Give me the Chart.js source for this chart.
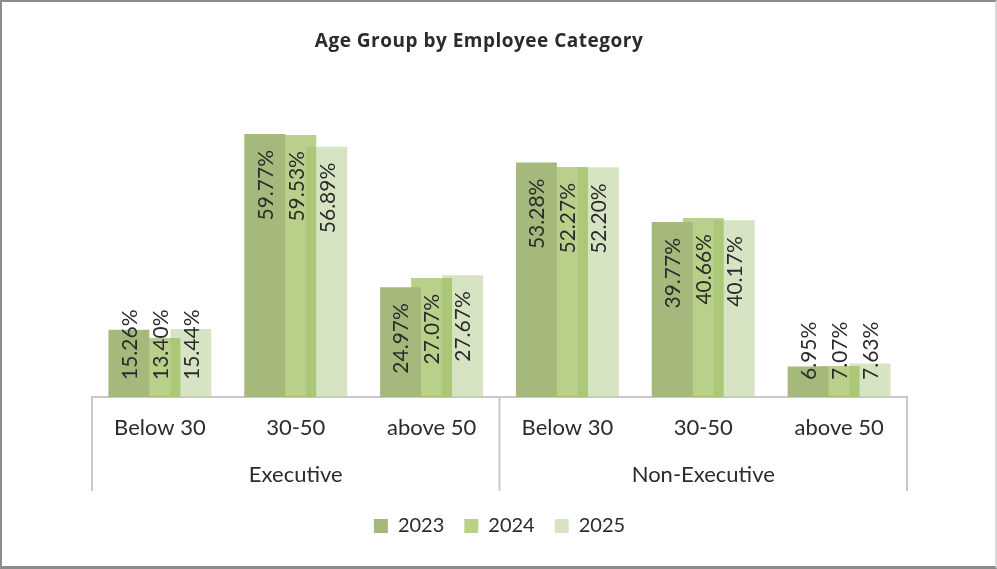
<!DOCTYPE html>
<html>
<head>
<meta charset="utf-8">
<script src="https://cdn.jsdelivr.net/npm/chart.js@4.4.1/dist/chart.umd.min.js"></script>
<style>
  html, body { margin: 0; padding: 0; background: #fff; }
  #wrap { position: relative; width: 997px; height: 569px; }
  #chart { position: absolute; left: 0; top: 0; }
  #frame {
    position: absolute; left: 0; top: 0; width: 997px; height: 569px;
    box-sizing: border-box; pointer-events: none;
    border-left: 2px solid #8c8c8c; border-top: 2px solid #8c8c8c;
    border-bottom: 3px solid #8c8c8c; border-right: 2px solid #d9d9d9;
  }
</style>
</head>
<body>
<div id="wrap">
  <canvas id="chart" width="997" height="569"></canvas>
  <div id="frame"></div>
</div>
<script>
// Age bands, repeated once per employee category
const ageGroups = ['Below 30', '30-50', 'above 50', 'Below 30', '30-50', 'above 50'];
const employeeCategories = ['Executive', 'Non-Executive'];
const years = ['2023', '2024', '2025'];

// Share of employees (%) in each age band
const values2023 = [15.26, 59.77, 24.97, 53.28, 39.77, 6.95];
const values2024 = [13.40, 59.53, 27.07, 52.27, 40.66, 7.07];
const values2025 = [15.44, 56.89, 27.67, 52.20, 40.17, 7.63];

const titleText = 'Age Group by Employee Category';

const FONT = 'Lato, "Open Sans", sans-serif';
const TEXT_COLOR = '#2b2b2b';
const AXIS_COLOR = '#c8c8c8';

// Chart heading
const chartHeading = {
  id: 'chartHeading',
  afterDraw(chart) {
    const ctx = chart.ctx;
    ctx.save();
    ctx.font = 'bold 19px "Open Sans", sans-serif';
    if ('letterSpacing' in ctx) ctx.letterSpacing = '0.5px';
    ctx.fillStyle = TEXT_COLOR;
    ctx.textAlign = 'center';
    ctx.textBaseline = 'middle';
    ctx.fillText(titleText, 479, 42);
    ctx.restore();
  }
};

// Vertical dividers framing the two employee categories
const groupDividers = {
  id: 'groupDividers',
  afterDraw(chart) {
    const x = chart.scales.x, x2 = chart.scales.x2;
    const half = (x.getPixelForValue(1) - x.getPixelForValue(0)) / 2;
    const lines = [x.left, x.getPixelForValue(3) - half, x.right];
    const ctx = chart.ctx;
    ctx.save();
    ctx.strokeStyle = AXIS_COLOR;
    ctx.lineWidth = 2;
    lines.forEach(px => {
      ctx.beginPath();
      ctx.moveTo(px, x.top);
      ctx.lineTo(px, x2.top + 48);
      ctx.stroke();
    });
    ctx.restore();
  }
};

// Rotated percentage labels at the inside end of each bar
const barValueLabels = {
  id: 'barValueLabels',
  afterDatasetsDraw(chart) {
    const ctx = chart.ctx;
    ctx.save();
    ctx.font = '21px ' + FONT;
    ctx.fillStyle = TEXT_COLOR;
    ctx.textAlign = 'left';
    ctx.textBaseline = 'middle';
    chart.data.datasets.forEach((ds, di) => {
      const meta = chart.getDatasetMeta(di);
      meta.data.forEach((bar, i) => {
        const text = ds.data[i].toFixed(2) + '%';
        const w = ctx.measureText(text).width;
        const top = Math.min(bar.y + 16, bar.base - 17 - w);
        ctx.save();
        ctx.translate(bar.x + 1, top + w);
        ctx.rotate(-Math.PI / 2);
        ctx.fillText(text, 0, 0);
        ctx.restore();
      });
    });
    ctx.restore();
  }
};

new Chart(document.getElementById('chart'), {
  type: 'bar',
  data: {
    labels: ageGroups,
    datasets: [
      { label: years[0], data: values2023, backgroundColor: 'rgba(166,185,124,1)' },
      { label: years[1], data: values2024, backgroundColor: 'rgba(150,185,80,0.67)' },
      { label: years[2], data: values2025, backgroundColor: 'rgba(201,218,175,0.74)' }
    ]
  },
  options: {
    responsive: false,
    animation: false,
    devicePixelRatio: 1,
    datasets: {
      bar: { categoryPercentage: 0.685, barPercentage: 1.32, borderWidth: 0 }
    },
    layout: { padding: { top: 89, left: 92, right: 90, bottom: 23 } },
    scales: {
      y: { display: false, min: 0, max: 70 },
      x: {
        position: 'bottom',
        weight: 0,
        grid: { display: false, drawTicks: false },
        border: { display: true, color: AXIS_COLOR, width: 2 },
        ticks: { color: TEXT_COLOR, font: { family: FONT, size: 22 }, padding: 18, maxRotation: 0, autoSkip: false },
        afterFit(s) { s.height = 46; }
      },
      x2: {
        type: 'category',
        position: 'bottom',
        weight: 1,
        labels: employeeCategories,
        offset: true,
        grid: { display: false, drawTicks: false },
        border: { display: false },
        ticks: { color: TEXT_COLOR, font: { family: FONT, size: 22 }, padding: 19, maxRotation: 0 },
        afterFit(s) { s.height = 53; }
      }
    },
    plugins: {
      title: { display: false },
      tooltip: { enabled: false },
      legend: {
        position: 'bottom',
        labels: { color: TEXT_COLOR, font: { family: FONT, size: 20 }, boxWidth: 14, boxHeight: 14, padding: 20 }
      }
    }
  },
  plugins: [chartHeading, groupDividers, barValueLabels]
});
</script>
</body>
</html>
